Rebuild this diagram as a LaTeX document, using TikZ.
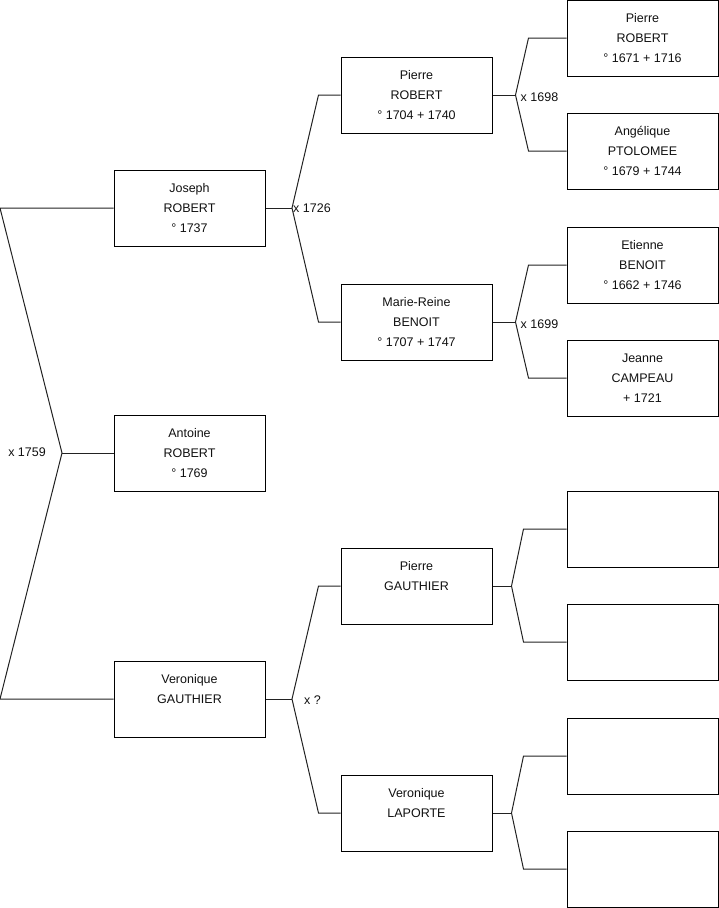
\documentclass[tikz,border=0pt]{standalone}
\usepackage{fontspec}
\setmainfont{Liberation Sans}
\usepackage{xcolor}
\usetikzlibrary{positioning}
\definecolor{gtInk}{HTML}{111111}
\definecolor{gtLine}{HTML}{222222}
\tikzset{
  gt diagram/.style={x=1pt, y=-1pt, font=\fontsize{12.5}{20}\selectfont, text=gtInk,
    line join=miter},
  gt box/.style={draw=black, fill=white, line width=1pt, minimum width=151pt,
    minimum height=76pt, align=center, inner sep=0pt},
  gt link/.style={draw=gtLine, line width=1pt},
  gt label/.style={inner sep=0pt, text=gtInk}
}

\begin{document}
\begin{tikzpicture}[gt diagram]
\useasboundingbox (0,0) rectangle (719,908);
% generation 1
\node[gt box] (joseph) at (189.5,208) {Joseph\\ROBERT\\° 1737};
\node[gt box] (antoine) at (189.5,453) {Antoine\\ROBERT\\° 1769};
\node[gt box] (veroG) at (189.5,699) {Veronique\\GAUTHIER\\\mbox{}};
% generation 2
\node[gt box] (pierreR) at (416.5,95) {Pierre\\ROBERT\\° 1704 + 1740};
\node[gt box] (marieB) at (416.5,322) {Marie-Reine\\BENOIT\\° 1707 + 1747};
\node[gt box] (pierreG) at (416.5,586) {Pierre\\GAUTHIER\\\mbox{}};
\node[gt box] (veroL) at (416.5,813) {Veronique\\LAPORTE\\\mbox{}};
% generation 3
\foreach \name/\y/\txt in {pierreRR/38/{Pierre\\ROBERT\\° 1671 + 1716},
    angelP/151/{Angélique\\PTOLOMEE\\° 1679 + 1744},
    etienneB/265/{Etienne\\BENOIT\\° 1662 + 1746},
    jeanneC/378/{Jeanne\\CAMPEAU\\ + 1721},
    gauthFa/529/{}, gauthMo/642/{}, laporteFa/756/{}, laporteMo/869/{}}{
  \node[gt box] (\name) at (642.5,\y) {\txt};
}
% couple of the parents
\coordinate (top) at (0,208);
\coordinate (apex) at (62,453);
\coordinate (bottom) at (0,699);
\draw[gt link] (joseph.west) -- (top) -- (apex) -- (bottom) -- (veroG.west);
\draw[gt link] (apex) -- (antoine.west);
\node[gt label, anchor=east] (m1759) at ([xshift=-16pt,yshift=1pt]apex) {x 1759};
% parents of generation 1
\coordinate (jJoseph) at (292,208);
\coordinate (jVero) at (292,699);
\draw[gt link] (joseph.east) -- (jJoseph);
\draw[gt link] (pierreR.west) -- ++(-22,0) -- (jJoseph) -- ([xshift=-22pt]marieB.west) -- (marieB.west);
\draw[gt link] (veroG.east) -- (jVero);
\draw[gt link] (pierreG.west) -- ++(-22,0) -- (jVero) -- ([xshift=-22pt]veroL.west) -- (veroL.west);
\node[gt label, anchor=west] (m1726) at ([xshift=1pt]jJoseph) {x 1726};
\node[gt label, anchor=west] (mVero) at ([xshift=12pt,yshift=-1pt]jVero) {x ?};
% parents of generation 2
\foreach \kid/\pa/\ma/\gap/\leg in {pierreR/pierreRR/angelP/23/38, marieB/etienneB/jeanneC/23/38,
    pierreG/gauthFa/gauthMo/19/43, veroL/laporteFa/laporteMo/19/43}{
  \coordinate (j\kid) at ([xshift=\gap pt]\kid.east);
  \draw[gt link] (\kid.east) -- (j\kid);
  \draw[gt link] (\pa.west) -- ++(-\leg,0) -- (j\kid) -- ([xshift=-\leg pt]\ma.west) -- (\ma.west);
}
\node[gt label, anchor=west] (m1698) at ([xshift=5pt,yshift=-2pt]jpierreR) {x 1698};
\node[gt label, anchor=west] (m1699) at ([xshift=5pt,yshift=-2pt]jmarieB) {x 1699};
\end{tikzpicture}
\end{document}
